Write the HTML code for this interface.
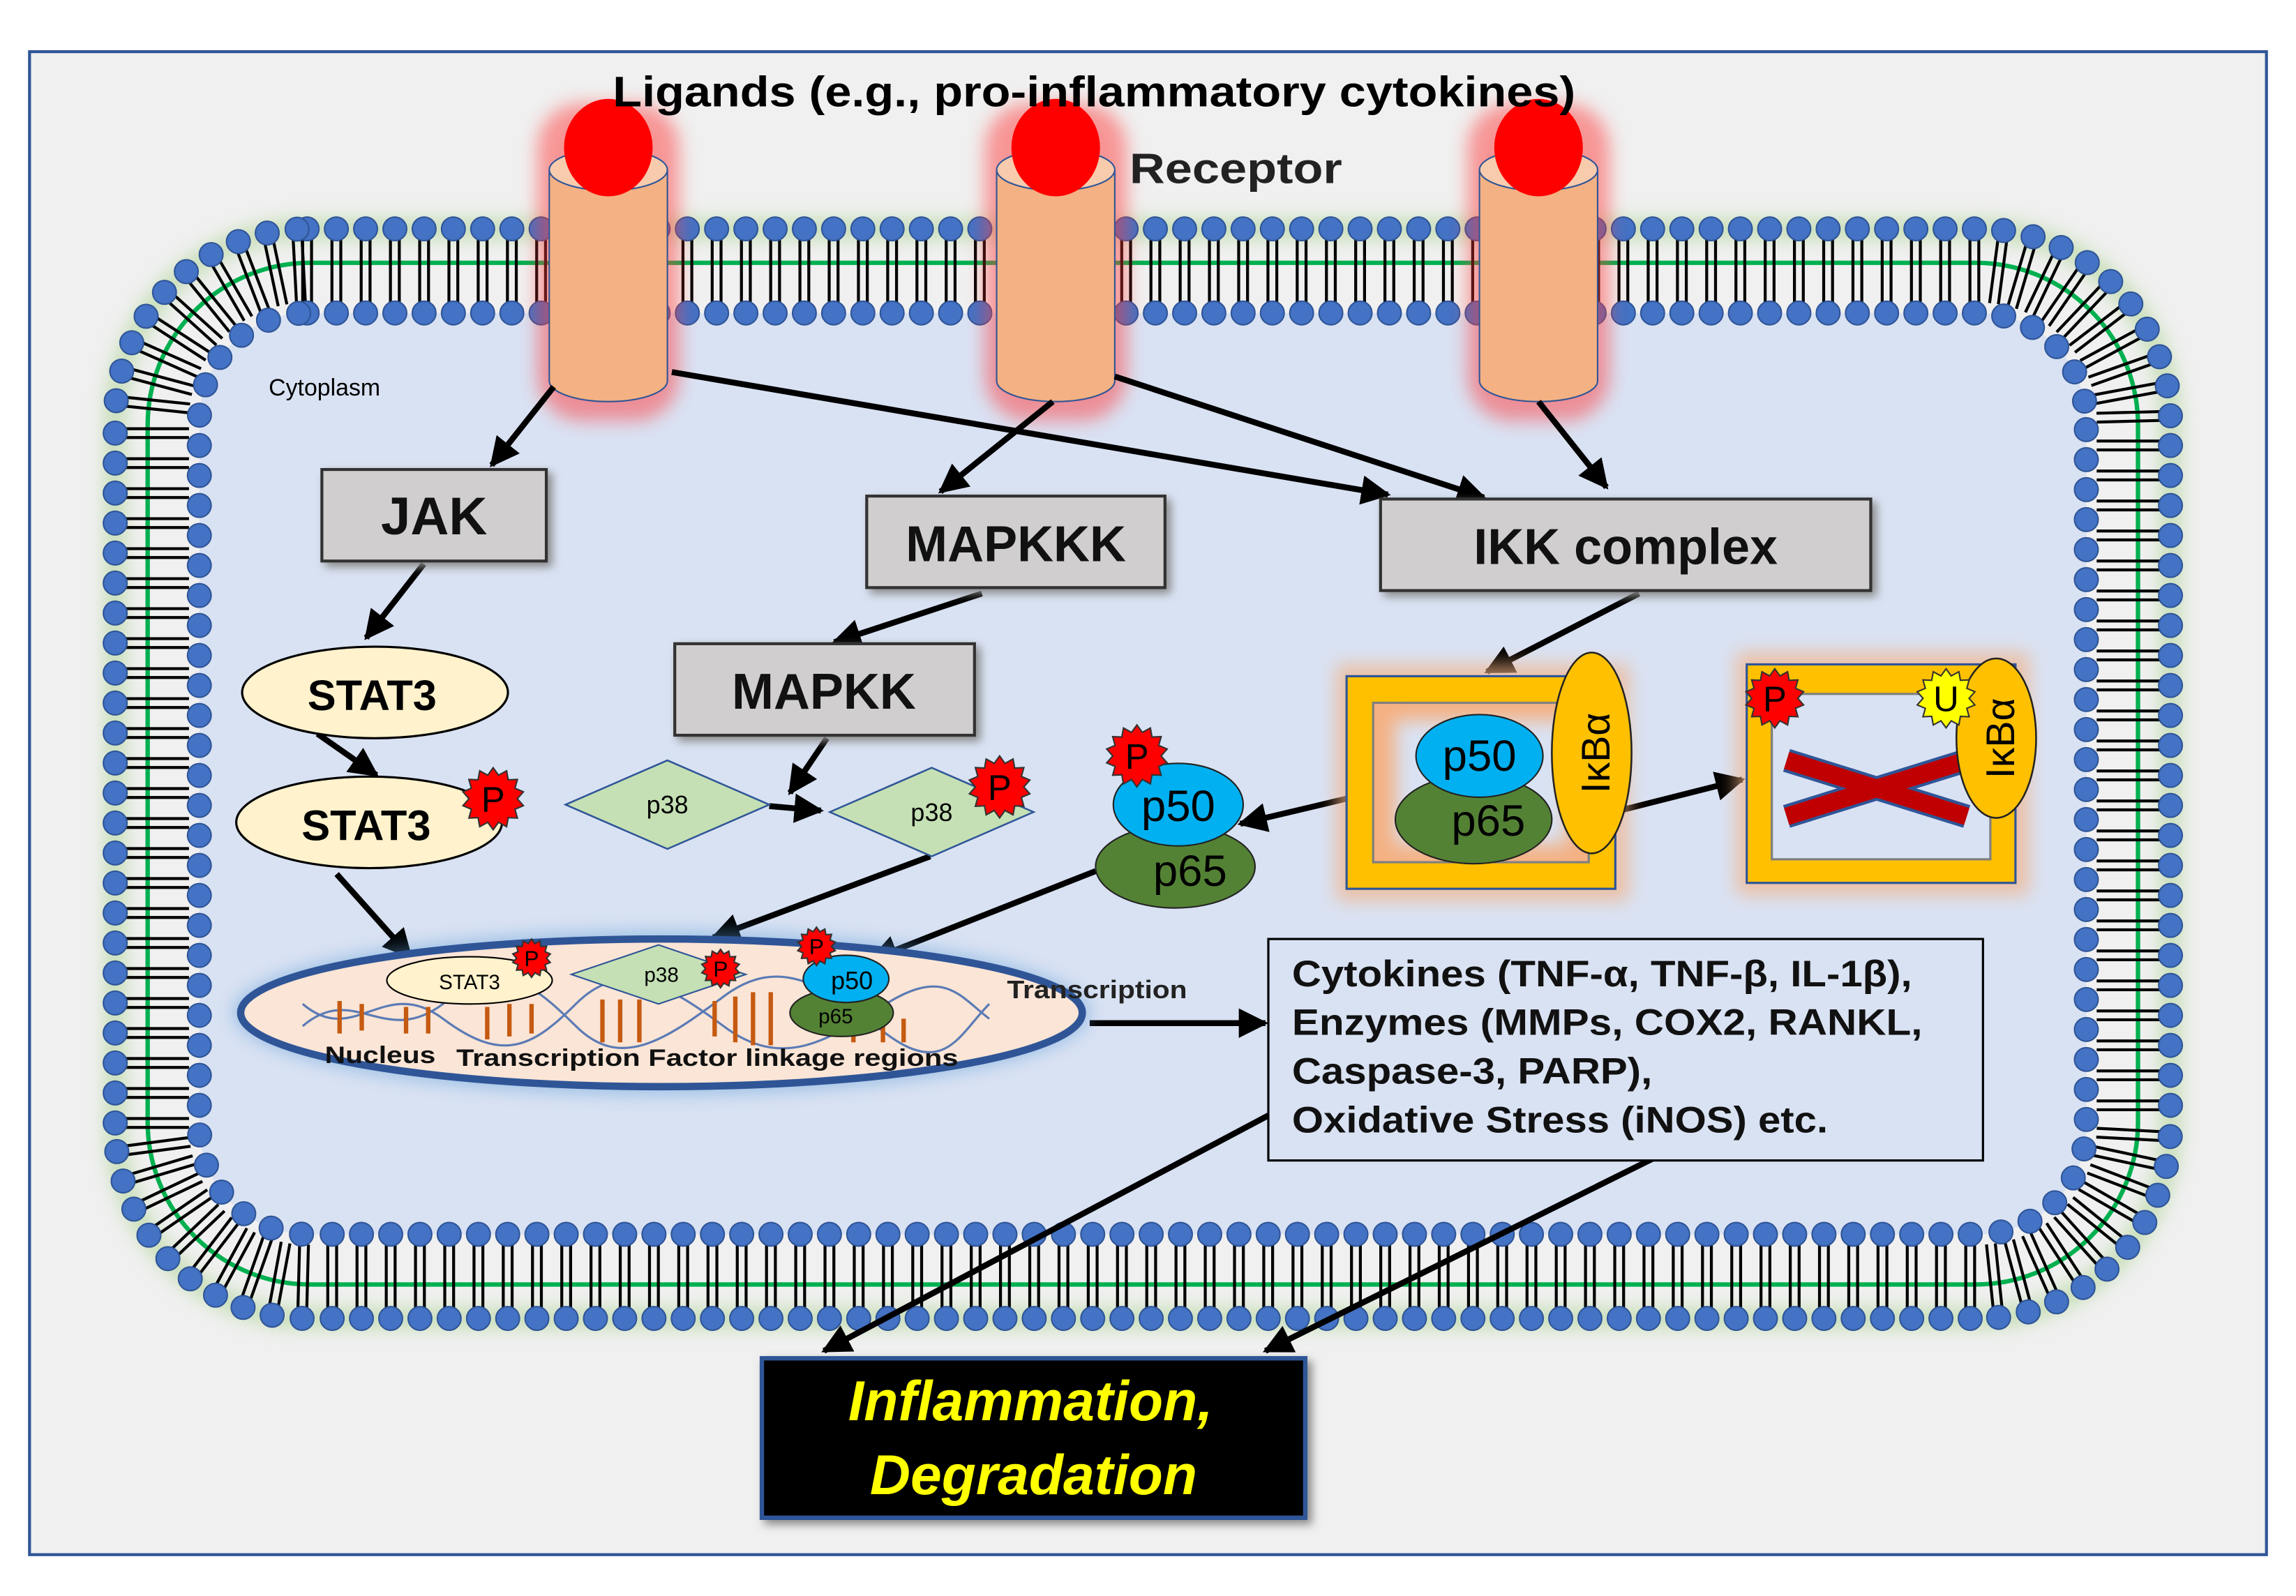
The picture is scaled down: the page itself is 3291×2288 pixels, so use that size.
<!DOCTYPE html>
<html><head><meta charset="utf-8"><style>
html,body{margin:0;padding:0;background:#fff}
svg{display:block}
text{font-family:"Liberation Sans","DejaVu Sans",sans-serif}
</style></head><body>
<svg id="s" width="3291" height="2288" viewBox="0 0 1555 1081" preserveAspectRatio="none" xmlns="http://www.w3.org/2000/svg">
<defs>
<marker id="ar" viewBox="0 0 10 10" refX="9" refY="5" markerWidth="5" markerHeight="5" orient="auto"><path d="M0,0 L10,5 L0,10 z" fill="#000"/></marker>
<filter id="glow" x="-50%" y="-50%" width="200%" height="200%"><feGaussianBlur stdDeviation="6"/></filter>
<filter id="sh" x="-10%" y="-10%" width="130%" height="140%"><feDropShadow dx="3" dy="3" stdDeviation="3" flood-color="#888"/></filter>
</defs>
<rect x="0" y="0" width="1555" height="1081" fill="#fff"/>
<rect x="20" y="35" width="1515" height="1018" fill="#f0f0f0" stroke="#2f5597" stroke-width="2"/>
<rect x="78" y="155" width="1392" height="738" rx="130" fill="none" stroke="#a9d18e" stroke-width="14" opacity="0.6" filter="url(#glow)"/>
<rect x="100" y="178" width="1348" height="692" rx="110" fill="none" stroke="#00b050" stroke-width="3"/>
<rect x="135" y="212" width="1278" height="624" rx="73" fill="#d9e2f3"/>
<g id="mem"></g>
<g id="rec"></g>
<text x="415" y="72" font-size="29" font-weight="bold" fill="#000" textLength="652" lengthAdjust="spacingAndGlyphs">Ligands (e.g., pro-inflammatory cytokines)</text>
<text x="765" y="124" font-size="29" font-weight="bold" fill="#222" textLength="144" lengthAdjust="spacingAndGlyphs">Receptor</text>
<text x="182" y="268" font-size="16" fill="#000">Cytoplasm</text>
<g stroke="#000" stroke-width="4" fill="none" marker-end="url(#ar)">
<line x1="375" y1="262" x2="333" y2="315"/>
<line x1="455" y1="252" x2="940" y2="335"/>
<line x1="713" y1="272" x2="637" y2="333"/>
<line x1="755" y1="255" x2="1005" y2="337"/>
<line x1="1042" y1="272" x2="1088" y2="330"/>
<line x1="287" y1="382" x2="248" y2="432"/>
<line x1="665" y1="402" x2="565" y2="435"/>
<line x1="1110" y1="402" x2="1007" y2="455"/>
<line x1="215" y1="497" x2="255" y2="525"/>
<line x1="560" y1="500" x2="535" y2="537"/>
<line x1="521" y1="546" x2="556" y2="549"/>
<line x1="228" y1="592" x2="278" y2="648"/>
<line x1="630" y1="580" x2="483" y2="635"/>
<line x1="742" y1="590" x2="590" y2="650"/>
<line x1="916" y1="540" x2="840" y2="558"/>
<line x1="1093" y1="550" x2="1180" y2="528"/>
<line x1="738" y1="693" x2="857" y2="693"/>
<line x1="860" y1="755" x2="558" y2="915"/>
<line x1="1123" y1="783" x2="857" y2="915"/>
</g>
<g filter="url(#sh)" stroke="#333" stroke-width="2" fill="#d0cece">
<rect x="218" y="318" width="152" height="62"/>
<rect x="587" y="336" width="202" height="62"/>
<rect x="935" y="338" width="332" height="62"/>
<rect x="457" y="436" width="203" height="62"/>
</g>
<g font-weight="bold" fill="#111" text-anchor="middle">
<text x="294" y="362" font-size="36">JAK</text>
<text x="688" y="380" font-size="34">MAPKKK</text>
<text x="1101" y="382" font-size="34">IKK complex</text>
<text x="558" y="480" font-size="34">MAPKK</text>
</g>
<ellipse cx="254" cy="469" rx="90" ry="31" fill="#fff2cc" stroke="#000" stroke-width="1.5"/>
<text x="252" y="481" font-size="29" font-weight="bold" text-anchor="middle">STAT3</text>
<ellipse cx="250" cy="557" rx="90" ry="31" fill="#fff2cc" stroke="#000" stroke-width="1.5"/>
<text x="248" y="569" font-size="29" font-weight="bold" text-anchor="middle">STAT3</text>
<polygon points="383,545 452,515 521,545 452,575" fill="#c5e0b4" stroke="#2f5597" stroke-width="1.2"/>
<text x="452" y="551" font-size="17" text-anchor="middle">p38</text>
<polygon points="562,550 631,520 700,550 631,580" fill="#c5e0b4" stroke="#2f5597" stroke-width="1.2"/>
<text x="631" y="556" font-size="17" text-anchor="middle">p38</text>
<ellipse cx="796" cy="587" rx="54" ry="28" fill="#548235" stroke="#222" stroke-width="1"/>
<text x="806" y="600" font-size="30" text-anchor="middle">p65</text>
<ellipse cx="798" cy="545" rx="44" ry="28" fill="#00b0f0" stroke="#222" stroke-width="1"/>
<text x="798" y="556" font-size="30" text-anchor="middle">p50</text>
<rect x="905" y="450" width="198" height="160" fill="#f4b183" opacity="0.7" filter="url(#glow)"/>
<rect x="912" y="458" width="182" height="144" fill="#ffc000" stroke="#2f5597" stroke-width="1.5"/>
<rect x="930" y="476" width="146" height="108" fill="#f4b183" stroke="#7f7f7f" stroke-width="1.5"/>
<rect x="945" y="488" width="116" height="84" fill="#d9e2f3" filter="url(#glow)"/>
<ellipse cx="998" cy="555" rx="53" ry="30" fill="#548235" stroke="#222"/>
<text x="1008" y="566" font-size="30" text-anchor="middle">p65</text>
<ellipse cx="1002" cy="512" rx="43" ry="28" fill="#00b0f0" stroke="#222"/>
<text x="1002" y="522" font-size="30" text-anchor="middle">p50</text>
<ellipse cx="1078" cy="510" rx="27" ry="68" fill="#ffc000" stroke="#222" stroke-width="1.2"/>
<text transform="translate(1090,510) rotate(-90)" font-size="27" text-anchor="middle">IκBα</text>
<rect x="1176" y="442" width="198" height="164" fill="#f4b183" opacity="0.7" filter="url(#glow)"/>
<rect x="1183" y="450" width="182" height="148" fill="#ffc000" stroke="#2f5597" stroke-width="1.5"/>
<rect x="1200" y="470" width="148" height="112" fill="#d9e2f3" stroke="#7f7f7f" stroke-width="1.5"/>
<g stroke="#2f5597" stroke-width="16"><line x1="1210" y1="515" x2="1332" y2="553"/><line x1="1210" y1="553" x2="1332" y2="515"/></g>
<g stroke="#c00000" stroke-width="12"><line x1="1210" y1="515" x2="1332" y2="553"/><line x1="1210" y1="553" x2="1332" y2="515"/></g>
<ellipse cx="1352" cy="500" rx="27" ry="54" fill="#ffc000" stroke="#222" stroke-width="1.2"/>
<text transform="translate(1364,500) rotate(-90)" font-size="27" text-anchor="middle">IκBα</text>
<ellipse cx="448" cy="686" rx="290" ry="55" fill="#5b9bd5" opacity="0.5" filter="url(#glow)"/>
<ellipse cx="448" cy="686" rx="285" ry="50" fill="#fbe5d6" stroke="#2f5597" stroke-width="5"/>
<g stroke="#5b7bb5" stroke-width="1.5" fill="none">
<path d="M205,680 C240,710 260,660 300,690 S360,710 390,680 S450,665 490,695 S560,705 600,680 S650,675 670,690"/>
<path d="M205,695 C240,665 260,710 300,680 S360,665 390,695 S450,705 490,675 S560,670 600,700 S650,700 670,680"/>
</g>
<g id="dna" stroke="#c55a11" stroke-width="3"></g>
<ellipse cx="318" cy="664" rx="56" ry="16" fill="#fff2cc" stroke="#000"/>
<text x="318" y="670" font-size="14" text-anchor="middle">STAT3</text>
<polygon points="387,660 446,640 505,660 446,680" fill="#c5e0b4" stroke="#2f5597"/>
<text x="448" y="665" font-size="14" text-anchor="middle">p38</text>
<ellipse cx="570" cy="686" rx="35" ry="16" fill="#548235" stroke="#222"/>
<text x="566" y="693" font-size="14" text-anchor="middle">p65</text>
<ellipse cx="573" cy="663" rx="29" ry="16" fill="#00b0f0" stroke="#222"/>
<text x="577" y="670" font-size="17" text-anchor="middle">p50</text>
<text x="220" y="720" font-size="16" font-weight="bold" fill="#111" textLength="75" lengthAdjust="spacingAndGlyphs">Nucleus</text>
<text x="309" y="722" font-size="16" font-weight="bold" fill="#111" textLength="340" lengthAdjust="spacingAndGlyphs">Transcription Factor linkage regions</text>
<text x="682" y="676" font-size="17" font-weight="bold" fill="#222" textLength="122" lengthAdjust="spacingAndGlyphs">Transcription</text>
<g id="stars"></g>
<rect x="859" y="636" width="484" height="150" fill="#d9e2f3" stroke="#000" stroke-width="1.5"/>
<g font-size="25" font-weight="bold" fill="#111" lengthAdjust="spacingAndGlyphs">
<text x="875" y="668" textLength="420" lengthAdjust="spacingAndGlyphs">Cytokines (TNF-α, TNF-β, IL-1β),</text>
<text x="875" y="701" textLength="427" lengthAdjust="spacingAndGlyphs">Enzymes (MMPs, COX2, RANKL,</text>
<text x="875" y="734" textLength="244" lengthAdjust="spacingAndGlyphs">Caspase-3, PARP),</text>
<text x="875" y="767" textLength="363" lengthAdjust="spacingAndGlyphs">Oxidative Stress (iNOS) etc.</text>
</g>
<rect x="516" y="920" width="368" height="108" fill="#000" stroke="#2f5597" stroke-width="3" filter="url(#sh)"/>
<g font-size="38" font-weight="bold" font-style="italic" fill="#ffff00" text-anchor="middle">
<text x="698" y="962">Inflammation,</text>
<text x="700" y="1012">Degradation</text>
</g>
</svg>
<script>
var NS="http://www.w3.org/2000/svg";
function el(p,t,a){var e=document.createElementNS(NS,t);for(var k in a)e.setAttribute(k,a[k]);p.appendChild(e);return e;}
function pts(x,y,w,h,r,step){
 var out=[];var P=[];
 function add(px,py,nx,ny){P.push([px,py,nx,ny]);}
 var N=400,i,a;
 for(i=0;i<=N;i++){add(x+r+(w-2*r)*i/N,y,0,-1);}
 for(i=0;i<=60;i++){a=-Math.PI/2+Math.PI/2*i/60;add(x+w-r+r*Math.cos(a),y+r+r*Math.sin(a),Math.cos(a),Math.sin(a));}
 for(i=0;i<=N;i++){add(x+w,y+r+(h-2*r)*i/N,1,0);}
 for(i=0;i<=60;i++){a=Math.PI/2*i/60;add(x+w-r+r*Math.cos(a),y+h-r+r*Math.sin(a),Math.cos(a),Math.sin(a));}
 for(i=0;i<=N;i++){add(x+w-r-(w-2*r)*i/N,y+h,0,1);}
 for(i=0;i<=60;i++){a=Math.PI/2+Math.PI/2*i/60;add(x+r+r*Math.cos(a),y+h-r+r*Math.sin(a),Math.cos(a),Math.sin(a));}
 for(i=0;i<=N;i++){add(x,y+h-r-(h-2*r)*i/N,-1,0);}
 for(i=0;i<=60;i++){a=Math.PI+Math.PI/2*i/60;add(x+r+r*Math.cos(a),y+r+r*Math.sin(a),Math.cos(a),Math.sin(a));}
 var acc=0;out.push(P[0]);
 for(i=1;i<P.length;i++){var dx=P[i][0]-P[i-1][0],dy=P[i][1]-P[i-1][1];acc+=Math.sqrt(dx*dx+dy*dy);if(acc>=step){out.push(P[i]);acc=0;}}
 return out;
}
var m=document.getElementById('mem');
var outer=pts(78,155,1392,738,130,19.2);
outer.forEach(function(p){
 var tx=-p[3],ty=p[2];
 [-3,3].forEach(function(o){
 el(m,'line',{x1:p[0]-p[2]*6+tx*o,y1:p[1]-p[3]*6+ty*o,x2:p[0]-p[2]*50+tx*o,y2:p[1]-p[3]*50+ty*o,stroke:'#000','stroke-width':2});});
});
var inner=pts(135,212,1278,624,73,19.2);
outer.forEach(function(p){el(m,'circle',{cx:p[0],cy:p[1],r:8,fill:'#4472c4',stroke:'#2f5597','stroke-width':1});});
inner.forEach(function(p){el(m,'circle',{cx:p[0],cy:p[1],r:8,fill:'#4472c4',stroke:'#2f5597','stroke-width':1});});
var rc=document.getElementById('rec');
[412,715,1042].forEach(function(cx){
 el(rc,'rect',{x:cx-48,y:70,width:96,height:215,rx:30,fill:'#ff3b3b',opacity:0.5,filter:'url(#glow)'});
 el(rc,'ellipse',{cx:cx,cy:258,rx:40,ry:14,fill:'#f4b183',stroke:'#2f5597','stroke-width':1});
 el(rc,'rect',{x:cx-40,y:115,width:80,height:143,fill:'#f4b183'});
 el(rc,'line',{x1:cx-40,y1:115,x2:cx-40,y2:258,stroke:'#2f5597','stroke-width':1});
 el(rc,'line',{x1:cx+40,y1:115,x2:cx+40,y2:258,stroke:'#2f5597','stroke-width':1});
 el(rc,'ellipse',{cx:cx,cy:115,rx:40,ry:14,fill:'#f8cbad',stroke:'#2f5597','stroke-width':1});
 el(rc,'ellipse',{cx:cx,cy:100,rx:30,ry:33,fill:'#ff0000'});
});
var d=document.getElementById('dna');
[[230,678,700],[245,680,698],[275,682,700],[290,682,700],[330,682,704],[345,680,702],[360,680,700],[408,677,706],[420,677,706],[433,677,706],[484,678,702],[498,675,706],[510,672,708],[522,672,708],[578,690,706],[598,690,706],[612,690,706]].forEach(function(a){el(d,'line',{x1:a[0],y1:a[1],x2:a[0],y2:a[2]});});
var st=document.getElementById('stars');
function star(cx,cy,r,fill,lab,fs){
 var s='';var n=14;for(var i=0;i<2*n;i++){var rr=i%2?r*0.78:r;var a=Math.PI*i/n;s+=(cx+rr*Math.sin(a))+','+(cy-rr*Math.cos(a))+' ';}
 el(st,'polygon',{points:s,fill:fill,stroke:'#333','stroke-width':1});
 var t=el(st,'text',{x:cx,y:cy+fs*0.36,'font-size':fs,'text-anchor':'middle',fill:'#000'});t.textContent=lab;
}
star(334,541,21,'#ff0000','P',24);
star(677,533,21,'#ff0000','P',24);
star(770,512,21,'#ff0000','P',24);
star(1202,473,20,'#ff0000','P',24);
star(1318,473,20,'#ffff00','U',24);
star(360,649,13,'#ff0000','P',15);
star(488,656,13,'#ff0000','P',15);
star(553,641,13,'#ff0000','P',15);
</script>
</body></html>
